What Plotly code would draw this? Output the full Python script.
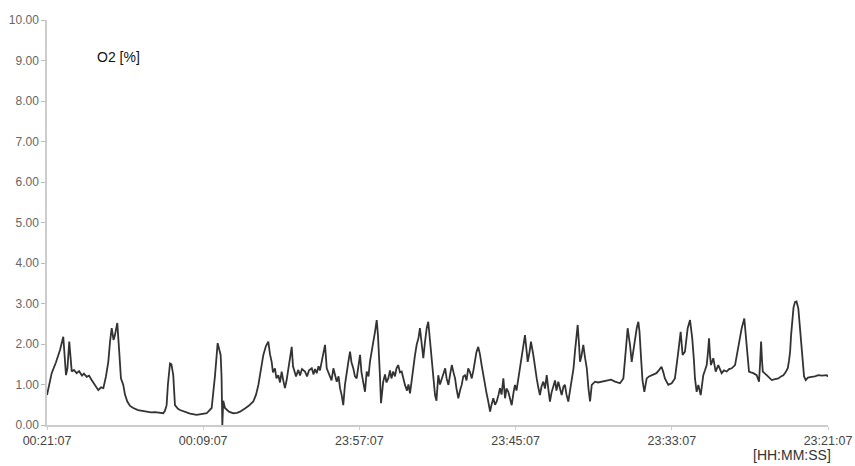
from datetime import datetime, timedelta
import plotly.graph_objects as go

# O2 concentration log; time runs backwards from the start stamp
start_time = "2024-01-02 00:21:07"
span_minutes = 60
tick_step_minutes = 12

# elapsed minutes (from start_time, counting back) and O2 [%]
minutes = [
    0.00, 0.36, 0.69, 1.00, 1.25, 1.46, 1.57, 1.71, 1.90, 2.07, 2.28, 2.46, 2.69, 2.84,
    3.05, 3.23, 3.43, 3.69, 3.94, 4.15, 4.33, 4.53, 4.71, 4.84, 4.97, 5.11, 5.22, 5.40,
    5.49, 5.55, 5.68, 5.86, 5.99, 6.17, 6.38, 6.63, 6.99, 7.30, 7.66, 7.99, 8.30, 8.61,
    8.93, 9.06, 9.19, 9.29, 9.45, 9.56, 9.70, 9.83, 10.06, 10.22, 10.60, 10.99, 11.50,
    11.84, 12.27, 12.65, 12.79, 12.91, 13.11, 13.21, 13.34, 13.41, 13.47, 13.54, 13.67,
    13.98, 14.31, 14.60, 14.83, 15.21, 15.52, 15.85, 16.06, 16.24, 16.44, 16.62, 16.82,
    17.00, 17.13, 17.26, 17.36, 17.51, 17.63, 17.77, 17.90, 18.03, 18.15, 18.28, 18.41,
    18.55, 18.67, 18.80, 18.90, 19.00, 19.13, 19.31, 19.44, 19.59, 19.82, 19.98, 20.13,
    20.34, 20.48, 20.59, 20.72, 20.86, 20.97, 21.10, 21.20, 21.36, 21.49, 21.63, 21.74,
    21.86, 22.00, 22.13, 22.26, 22.40, 22.51, 22.63, 22.76, 22.89, 23.01, 23.15, 23.28,
    23.39, 23.53, 23.66, 23.79, 23.93, 24.05, 24.16, 24.30, 24.43, 24.56, 24.70, 24.81,
    24.93, 25.07, 25.20, 25.33, 25.43, 25.50, 25.58, 25.66, 25.83, 25.97, 26.08, 26.22,
    26.35, 26.46, 26.60, 26.73, 26.85, 26.98, 27.12, 27.25, 27.39, 27.50, 27.66, 27.77,
    27.89, 28.00, 28.14, 28.26, 28.40, 28.54, 28.65, 28.77, 28.91, 29.04, 29.17, 29.29,
    29.42, 29.55, 29.69, 29.81, 29.92, 30.06, 30.19, 30.32, 30.45, 30.59, 30.70, 30.84,
    30.97, 31.10, 31.23, 31.35, 31.46, 31.60, 31.73, 31.86, 31.98, 32.11, 32.23, 32.36,
    32.50, 32.63, 32.76, 32.88, 32.99, 33.13, 33.26, 33.39, 33.53, 33.65, 33.76, 33.90,
    34.04, 34.15, 34.29, 34.42, 34.55, 34.69, 34.80, 34.92, 35.06, 35.19, 35.30, 35.44,
    35.57, 35.70, 35.84, 35.95, 36.07, 36.21, 36.34, 36.45, 36.59, 36.72, 36.84, 36.93,
    37.07, 37.18, 37.36, 37.49, 37.62, 37.76, 37.87, 37.99, 38.13, 38.26, 38.39, 38.53,
    38.64, 38.76, 38.90, 39.03, 39.14, 39.28, 39.41, 39.54, 39.68, 39.79, 39.91, 40.05,
    40.18, 40.31, 40.45, 40.56, 40.68, 40.77, 40.87, 40.95, 41.06, 41.20, 41.34, 41.47,
    41.60, 41.72, 41.85, 42.10, 42.33, 42.61, 42.87, 43.12, 43.33, 43.64, 43.87, 44.02,
    44.28, 44.46, 44.61, 44.71, 44.79, 44.92, 45.06, 45.18, 45.31, 45.43, 45.52, 45.64,
    45.75, 45.89, 46.07, 46.25, 46.45, 46.63, 46.82, 47.00, 47.21, 47.35, 47.47, 47.73,
    47.99, 48.24, 48.36, 48.50, 48.68, 48.83, 49.01, 49.13, 49.22, 49.40, 49.47, 49.57,
    49.70, 49.78, 49.91, 50.04, 50.22, 50.42, 50.55, 50.68, 50.78, 50.86, 50.94, 51.01,
    51.19, 51.37, 51.57, 51.70, 51.83, 52.01, 52.22, 52.40, 52.60, 52.86, 52.97, 53.11,
    53.24, 53.37, 53.57, 53.66, 53.75, 53.85, 53.93, 54.08, 54.26, 54.52, 54.70, 54.78,
    54.86, 54.93, 54.99, 55.29, 55.68, 55.93, 56.19, 56.39, 56.57, 56.74, 56.91, 57.01,
    57.09, 57.16, 57.26, 57.35, 57.47, 57.58, 57.72, 57.81, 57.90, 58.06, 58.16, 58.29,
    58.46, 58.75, 59.00, 59.25, 59.54, 59.90, 60.00,
]
o2 = [
    0.74, 1.28, 1.55, 1.85, 2.18, 1.23, 1.40, 2.06, 1.32, 1.36, 1.28, 1.33, 1.22, 1.27,
    1.19, 1.22, 1.11, 0.98, 0.86, 0.93, 0.91, 1.20, 1.56, 2.05, 2.39, 2.10, 2.22, 2.52,
    2.20, 1.81, 1.15, 0.99, 0.75, 0.58, 0.47, 0.42, 0.37, 0.35, 0.33, 0.31, 0.32, 0.30,
    0.29, 0.35, 0.49, 1.00, 1.52, 1.50, 1.23, 0.49, 0.40, 0.37, 0.32, 0.28, 0.25,
    0.26, 0.29, 0.42, 0.80, 1.23, 2.02, 1.90, 1.73, 1.20, 0.00, 0.60, 0.42,
    0.33, 0.29, 0.30, 0.33, 0.41, 0.48, 0.58, 0.75, 0.99, 1.35, 1.73, 1.95,
    2.06, 1.75, 1.56, 1.30, 1.40, 1.15, 1.23, 1.05, 1.32, 1.10, 0.91, 1.11,
    1.40, 1.56, 1.93, 1.45, 1.32, 1.20, 1.36, 1.22, 1.38, 1.32, 1.20, 1.35,
    1.40, 1.25, 1.38, 1.28, 1.45, 1.35, 1.56, 1.75, 1.98, 1.40, 1.30, 1.23,
    1.10, 1.40, 1.25, 1.07, 1.20, 0.91, 0.75, 0.49, 0.99, 1.30, 1.56, 1.81,
    1.55, 1.40, 1.20, 1.15, 1.45, 1.73, 1.30, 0.99, 0.82, 1.32, 1.20, 1.56,
    1.75, 2.06, 2.30, 2.59, 2.20, 1.81, 1.20, 0.54, 1.07, 1.25, 1.05, 1.15,
    1.35, 1.15, 1.32, 1.20, 1.40, 1.48, 1.30, 1.32, 1.10, 0.99, 0.85, 1.00,
    0.78, 1.10, 1.48, 1.70, 1.98, 2.15, 2.39, 2.00, 1.65, 2.05, 2.39, 2.55,
    2.10, 1.56, 1.05, 0.74, 0.60, 1.23, 1.00, 1.15, 1.30, 1.40, 1.15, 0.99,
    1.25, 1.48, 1.30, 1.15, 0.90, 0.66, 0.85, 0.99, 1.20, 1.23, 1.10, 1.40,
    1.30, 1.15, 1.35, 1.65, 1.80, 1.93, 1.75, 1.48, 1.20, 0.99, 0.80, 0.58,
    0.33, 0.50, 0.66, 0.50, 0.58, 0.75, 0.91, 0.75, 1.15, 0.66, 0.90, 0.82,
    0.65, 0.49, 0.80, 0.99, 0.85, 1.15, 1.40, 1.65, 1.98, 2.22, 1.85, 1.56,
    1.80, 2.06, 1.73, 1.40, 1.15, 0.90, 0.74, 0.95, 1.07, 0.90, 1.23, 0.85,
    0.58, 0.80, 0.99, 1.10, 0.85, 1.07, 0.90, 0.74, 0.95, 0.99, 0.75, 0.58,
    0.85, 1.07, 1.40, 1.81, 2.20, 2.47, 2.00, 1.56, 1.70, 1.98, 1.65, 1.40,
    0.90, 0.58, 0.99, 1.07, 1.05, 1.07, 1.10, 1.11, 1.12, 1.07, 1.05, 1.03,
    1.15, 1.81, 2.39, 2.15, 1.98, 1.56, 1.90, 2.22, 2.40, 2.55, 2.30, 1.65,
    1.10, 0.82, 1.15, 1.20, 1.23, 1.25, 1.28, 1.35, 1.44, 1.30, 1.15, 0.99,
    1.03, 1.15, 1.40, 1.81, 2.30, 1.73, 1.81, 2.10, 2.39, 2.59, 2.40, 2.14,
    1.60, 1.15, 0.82, 0.99, 0.74, 1.23, 1.35, 1.48, 1.80, 2.14, 1.70, 1.48,
    1.65, 1.32, 1.48, 1.35, 1.28, 1.35, 1.32, 1.38, 1.40, 1.48, 1.70, 1.98,
    2.20, 2.39, 2.63, 2.30, 1.81, 1.50, 1.32, 1.30, 1.28, 1.23, 1.07, 1.50,
    2.06, 1.60, 1.32, 1.23, 1.11, 1.13, 1.15, 1.20, 1.23, 1.30, 1.40, 1.60,
    1.81, 2.20, 2.63, 2.90, 3.04, 3.05, 2.88, 2.50, 2.14, 1.40, 1.20, 1.11,
    1.17, 1.19, 1.20, 1.23, 1.22, 1.23, 1.19,
]

y_ticks = [0, 1, 2, 3, 4, 5, 6, 7, 8, 9, 10]
y_title = "O2 [%]"
x_title = "[HH:MM:SS]"

t0 = datetime.strptime(start_time, "%Y-%m-%d %H:%M:%S")
times = [t0 - timedelta(minutes=m) for m in minutes]
t_end = t0 - timedelta(minutes=span_minutes)
x_ticks = [t0 - timedelta(minutes=k) for k in range(0, span_minutes + 1, tick_step_minutes)]

font_family = "Liberation Sans, Arial, sans-serif"

fig = go.Figure()
fig.add_trace(go.Scatter(
    x=times, y=o2, mode="lines",
    line=dict(color="#333333", width=1.8),
    hoverinfo="skip", showlegend=False,
))

fig.update_layout(
    width=855, height=466,
    margin=dict(l=47, r=27, t=20, b=41, autoexpand=False),
    paper_bgcolor="white", plot_bgcolor="white",
    font=dict(family=font_family, size=12, color="#555555"),
    xaxis=dict(
        type="date",
        range=[t0, t_end],
        tickvals=x_ticks,
        tickformat="%H:%M:%S",
        automargin=False,
        showgrid=False, zeroline=False,
        showline=True, linecolor="#cccccc", linewidth=1.5,
        ticks="outside", ticklen=3, tickcolor="#cccccc",
        tickfont=dict(size=12.5, color="#444444"),
    ),
    yaxis=dict(
        range=[0, 10],
        tickvals=y_ticks,
        tickformat=".2f",
        automargin=False,
        showgrid=False, zeroline=False,
        showline=True, linecolor="#cccccc", linewidth=1.5,
        ticks="outside", ticklen=4, tickcolor="#bbbbbb",
        tickfont=dict(size=12, color="#666666"),
    ),
    annotations=[
        dict(text=y_title, xref="paper", yref="paper", x=0.061, y=0.909,
             xanchor="left", yanchor="middle", showarrow=False,
             font=dict(size=14, color="#111111")),
        dict(text=x_title, xref="paper", yref="paper", x=1.006, y=-0.075,
             xanchor="right", yanchor="middle", showarrow=False,
             font=dict(size=14, color="#333333")),
    ],
)

fig.write_html("out.html")
